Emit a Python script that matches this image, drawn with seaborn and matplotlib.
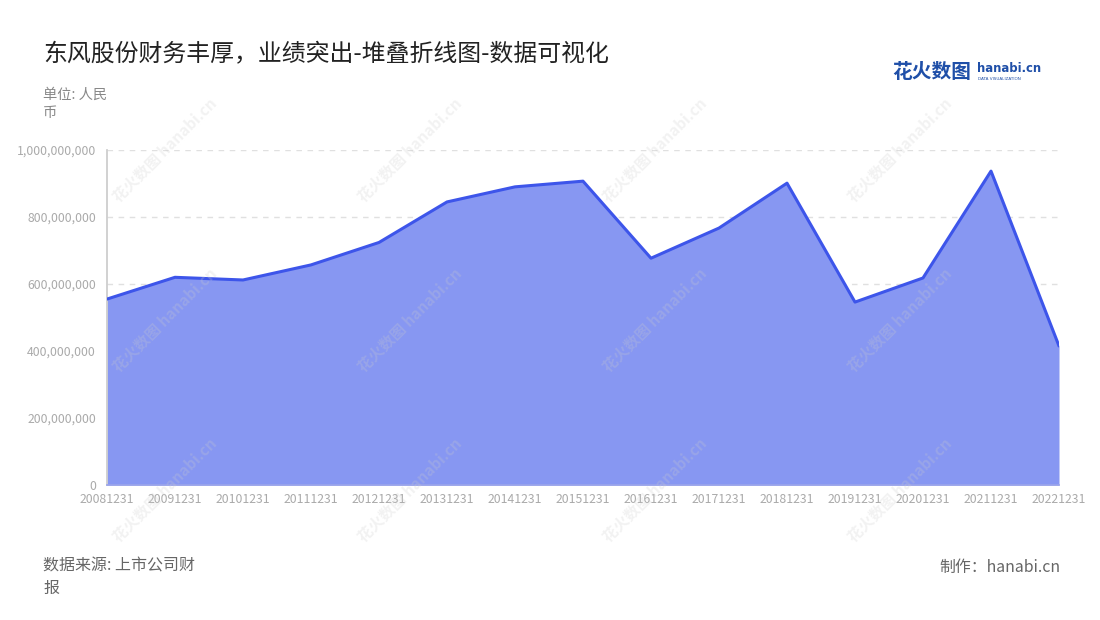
import seaborn as sns
import matplotlib.pyplot as plt
import numpy as np
import pandas as pd

dates = ['20081231', '20091231', '20101231', '20111231', '20121231', '20131231',
         '20141231', '20151231', '20161231', '20171231', '20181231', '20191231',
         '20201231', '20211231', '20221231']
values = [555e6, 620e6, 612e6, 657e6, 724e6, 845e6, 890e6, 907e6,
          677e6, 767e6, 901e6, 546e6, 618e6, 937e6, 415e6]
yticks = [0, 200e6, 400e6, 600e6, 800e6, 1000e6]

df = pd.DataFrame({'date': dates, 'value': values})

sns.set_theme(style='white')
plt.rcParams['font.family'] = ['Noto Sans CJK SC', 'DejaVu Sans']

fig = plt.figure(figsize=(11, 6.2), dpi=100)
ax = fig.add_axes([107 / 1100, 135 / 620, 952 / 1100, 335 / 620])

line_c = '#3d55ea'
fill_c = '#8797f2'
x = np.arange(len(dates))
ax.fill_between(x, df['value'], 0, color=fill_c, lw=0, zorder=2)
sns.lineplot(data=df, x='date', y='value', ax=ax, color=line_c, lw=2.2, zorder=3)

ax.set_xlim(0, len(dates) - 1)
ax.set_ylim(0, 1e9)
ax.set_yticks(yticks)
ax.set_yticklabels([f'{int(v):,}' for v in yticks])
ax.set_xticks(x)
ax.set_xticklabels(dates)
ax.set_xlabel('')
ax.set_ylabel('')
ax.grid(axis='y', color='#e0e0e0', ls=(0, (4, 4)), lw=1)
ax.set_axisbelow(True)
for s in ['top', 'right']:
    ax.spines[s].set_visible(False)
ax.spines['left'].set_color('#cccccc')
ax.spines['bottom'].set_color('#9aa4ea')
ax.tick_params(axis='both', length=4, width=1, color='#cccccc',
               labelsize=8.8, labelcolor='#aaaaaa', pad=2)
ax.tick_params(axis='y', pad=4)

fig.text(43 / 1100, 1 - 55 / 620, '东风股份财务丰厚，业绩突出-堆叠折线图-数据可视化',
         fontsize=17.2, color='#222222', va='center')
fig.text(43 / 1100, 1 - 104 / 620, '单位: 人民\n币', fontsize=10.3, color='#888888',
         va='center', linespacing=1.4)
fig.text(43 / 1100, 1 - 577 / 620, '数据来源: 上市公司财\n报', fontsize=11.5,
         color='#666666', va='center', linespacing=1.45)
fig.text(1060 / 1100, 1 - 567 / 620, '制作：hanabi.cn', fontsize=11.4,
         color='#666666', va='center', ha='right')

# logo
fig.text(892 / 1100, 1 - 72 / 620, '花火数图', fontsize=14.2, color='#1f4fa8',
         fontweight='bold', va='center')
fig.text(977 / 1100, 1 - 69 / 620, 'hanabi.cn', fontsize=8.4, color='#1f4fa8',
         fontweight='bold', va='center', family=['DejaVu Sans'])
fig.text(978 / 1100, 1 - 79 / 620, 'DATA VISUALIZATION', fontsize=3.0,
         color='#1f4fa8', va='center', family=['DejaVu Sans'])

# watermarks
for wx in [165, 410, 655, 900]:
    for wy in [150, 320, 490]:
        fig.text(wx / 1100, 1 - wy / 620, '花火数图 hanabi.cn', fontsize=11,
                 color='#cccccc', alpha=0.25, rotation=45, ha='center',
                 va='center', fontweight='bold', zorder=10)

fig.savefig('out.png', dpi=100)
